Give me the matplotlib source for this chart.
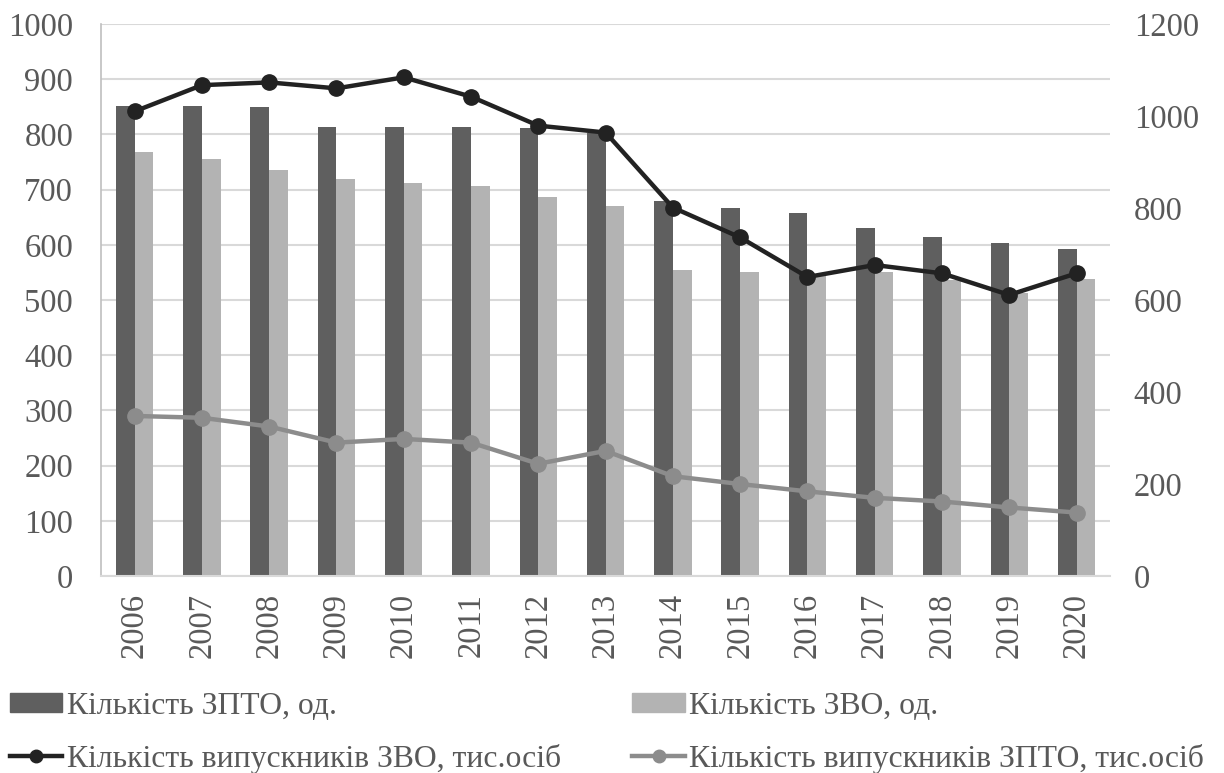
import matplotlib
matplotlib.use("Agg")
import matplotlib.pyplot as plt
import numpy as np
from matplotlib.lines import Line2D
from matplotlib.patches import Patch

years = ["2006", "2007", "2008", "2009", "2010", "2011", "2012", "2013",
         "2014", "2015", "2016", "2017", "2018", "2019", "2020"]
zpto_count = [851, 852, 849, 813, 814, 814, 811, 802, 679, 666, 657, 631, 614, 603, 593]
zvo_count = [768, 755, 735, 719, 712, 706, 687, 670, 554, 550, 545, 551, 536, 513, 538]
zvo_grads = [1010, 1067, 1073, 1060, 1084, 1042, 979, 964, 801, 736, 650, 676, 658, 611, 658]
zpto_grads = [348, 344, 325, 290, 298, 290, 244, 272, 217, 200, 184, 170, 162, 149, 138]

labels = ["Кількість ЗПТО, од.", "Кількість ЗВО, од.",
          "Кількість випускників ЗВО, тис.осіб", "Кількість випускників ЗПТО, тис.осіб"]

plt.rcParams['font.family'] = ['Liberation Serif', 'DejaVu Serif']
FS = 23.5
LFS = 22.8
TXT = '#595959'
DARK = '#5f5f5f'
LIGHT = '#b3b3b3'
BLACK = '#222222'
GRAY = '#8c8c8c'

fig = plt.figure(figsize=(12.24, 7.73), dpi=100)
ax = fig.add_axes([0.0825, 0.2548, 0.8245, 0.7142])
x = np.arange(len(years))
w = 0.278
ax.bar(x - w / 2, zpto_count, width=w, color=DARK, zorder=2)
ax.bar(x + w / 2, zvo_count, width=w, color=LIGHT, zorder=2)
ax.set_xlim(-0.5, len(years) - 0.5)
ax.set_ylim(0, 1000)
ax.set_yticks(range(0, 1001, 100))
ax.set_xticks(x)
ax.set_xticklabels(years, rotation=90)
ax.yaxis.grid(True, color='#d9d9d9', linewidth=1.5, zorder=0)
ax.set_axisbelow(True)
for s in ['top', 'right']:
    ax.spines[s].set_visible(False)
ax.spines['bottom'].set_color('#d9d9d9')
ax.spines['bottom'].set_linewidth(1.5)
ax.spines['left'].set_color('#bfbfbf')
ax.spines['left'].set_linewidth(1.2)
ax.tick_params(axis='both', length=0, labelsize=FS, labelcolor=TXT)
ax.tick_params(axis='y', pad=20)
ax.tick_params(axis='x', pad=12)

ax2 = ax.twinx()
ax2.plot(x, zvo_grads, color=BLACK, lw=3.2, marker='o', ms=11, zorder=5)
ax2.plot(x, zpto_grads, color=GRAY, lw=3.2, marker='o', ms=11, zorder=4)
ax2.set_ylim(0, 1200)
ax2.set_yticks(range(0, 1201, 200))
for s in ['top', 'right', 'left', 'bottom']:
    ax2.spines[s].set_visible(False)
ax2.tick_params(axis='y', length=0, labelsize=FS, labelcolor=TXT, pad=17)

handles = [Patch(color=DARK),
           Line2D([], [], color=BLACK, lw=3.2, marker='o', ms=9),
           Patch(color=LIGHT),
           Line2D([], [], color=GRAY, lw=3.2, marker='o', ms=9)]
hl = [labels[0], labels[2], labels[1], labels[3]]
leg = fig.legend(handles, hl, ncol=2, loc='upper left',
                 bbox_to_anchor=(10 / 1224, 1 - 692 / 773),
                 frameon=False, fontsize=LFS, handlelength=1.65, handleheight=0.55,
                 handletextpad=0.15, columnspacing=2.25, labelspacing=0.72,
                 borderaxespad=0.0, borderpad=0.0)
for t in leg.get_texts():
    t.set_color(TXT)

fig.savefig('out.png', dpi=100)
